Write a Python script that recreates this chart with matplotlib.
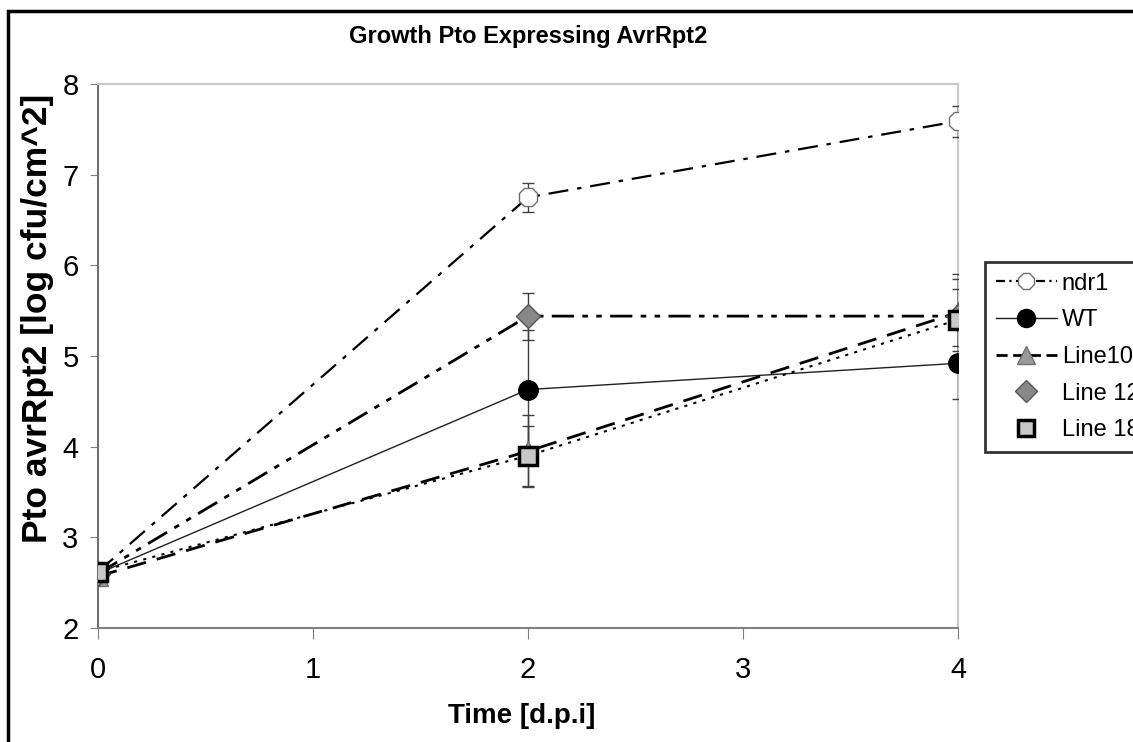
import matplotlib
matplotlib.use("Agg")
import matplotlib.pyplot as plt
from matplotlib.lines import Line2D
from matplotlib.patches import Rectangle

plt.rcParams['font.family'] = ['Liberation Sans', 'DejaVu Sans']

# days post inoculation
days = [0, 2, 4]

ndr1 = [2.62, 6.75, 7.59]
ndr1_err = [0.0, 0.16, 0.17]
wt = [2.60, 4.63, 4.92]
wt_err = [0.0, 0.66, 0.39]
line10 = [2.57, 3.95, 5.48]
line10_err = [0.0, 0.40, 0.37]
line12 = [2.60, 5.44, 5.44]
line12_err = [0.0, 0.26, 0.46]
line18 = [2.62, 3.90, 5.40]
line18_err = [0.0, 0.33, 0.34]

labels = ['ndr1', 'WT', 'Line10', 'Line 12', 'Line 18']

fig = plt.figure(figsize=(11.33, 7.42), dpi=100)
ax = fig.add_axes([98 / 1133, 1 - 628 / 742, 860 / 1133, 544 / 742])

ebkw = dict(ecolor='#404040', elinewidth=1, capsize=4, capthick=1)

# draw lines
ax.plot(days, ndr1, color='black', lw=1.6, dashes=(9, 4, 2, 4), zorder=2)
ax.plot(days, wt, color='#202020', lw=1, ls='-', zorder=2)
ax.plot(days, line10, color='black', lw=2, dashes=(7, 4), zorder=2)
ax.plot(days, line12, color='black', lw=2, dashes=(8, 3, 2, 3, 2, 3), zorder=2)
ax.plot(days, line18, color='black', lw=1.5, dashes=(1.5, 3), zorder=2)

# error bars
for vals, errs in [(ndr1, ndr1_err), (wt, wt_err), (line10, line10_err),
                   (line12, line12_err), (line18, line18_err)]:
    ax.errorbar(days, vals, yerr=errs, fmt='none', zorder=3, **ebkw)

# markers
ax.plot(days, ndr1, ls='none', marker='8', ms=14, mfc='white', mec='#707070', mew=1, zorder=4)
ax.plot(days, wt, ls='none', marker='o', ms=14, mfc='black', mec='black', zorder=4)
ax.plot(days, line10, ls='none', marker='^', ms=14, mfc='#999999', mec='#707070', zorder=4)
ax.plot(days, line12, ls='none', marker='D', ms=12, mfc='#888888', mec='#555555', zorder=4)
ax.plot(days, line18, ls='none', marker='s', ms=13, mfc='#c8c8c8', mec='black', mew=2.5, zorder=5)

ax.set_xlim(0, 4)
ax.set_ylim(2, 8)
ax.set_xticks([0, 1, 2, 3, 4])
ax.set_yticks([2, 3, 4, 5, 6, 7, 8])
ax.tick_params(axis='both', labelsize=21, color='#808080', direction='out')
ax.tick_params(axis='y', length=6, pad=8)
ax.tick_params(axis='x', length=8, pad=12)

ax.spines['left'].set_color('#707070')
ax.spines['bottom'].set_color('#808080')
ax.spines['top'].set_color('#c8c8c8')
ax.spines['right'].set_color('#c8c8c8')
for s in ax.spines.values():
    s.set_linewidth(1.5)

fig.text(528 / 1133, 1 - 36 / 742, 'Growth Pto Expressing AvrRpt2', ha='center', va='center',
         fontsize=17, fontweight='bold')
fig.text(522 / 1133, 1 - 716 / 742, 'Time [d.p.i]', ha='center', va='center',
         fontsize=20, fontweight='bold')
fig.text(38 / 1133, 1 - 318 / 742, 'Pto avrRpt2 [log cfu/cm^2]', ha='center', va='center',
         rotation=90, fontsize=25.5, fontweight='bold')

# legend
handles = [
    Line2D([], [], color='black', lw=1.6, dashes=(4, 2, 1, 2), marker='8', ms=13,
           mfc='white', mec='#707070'),
    Line2D([], [], color='#202020', lw=1, marker='o', ms=13, mfc='black', mec='black'),
    Line2D([], [], color='black', lw=2, dashes=(4, 2), marker='^', ms=13,
           mfc='#999999', mec='#707070'),
    Line2D([], [], ls='none', marker='D', ms=11, mfc='#888888', mec='#555555'),
    Line2D([], [], ls='none', marker='s', ms=11, mfc='#c8c8c8', mec='black', mew=2.5),
]
leg = fig.legend(handles, labels, loc='upper left', bbox_to_anchor=(985 / 1133, 1 - 262 / 742),
                 fontsize=17, frameon=True, fancybox=False, handlelength=2.6,
                 handletextpad=0.2, labelspacing=0.62, borderpad=0.45, borderaxespad=0)
leg.get_frame().set_edgecolor('black')
leg.get_frame().set_linewidth(2)

# outer chart border
fig.patches.append(Rectangle((8 / 1133, -0.1), 1.2, 1 - 11 / 742 + 0.1, transform=fig.transFigure,
                             fill=False, edgecolor='black', lw=2.5))

fig.savefig('out.png', dpi=100)
